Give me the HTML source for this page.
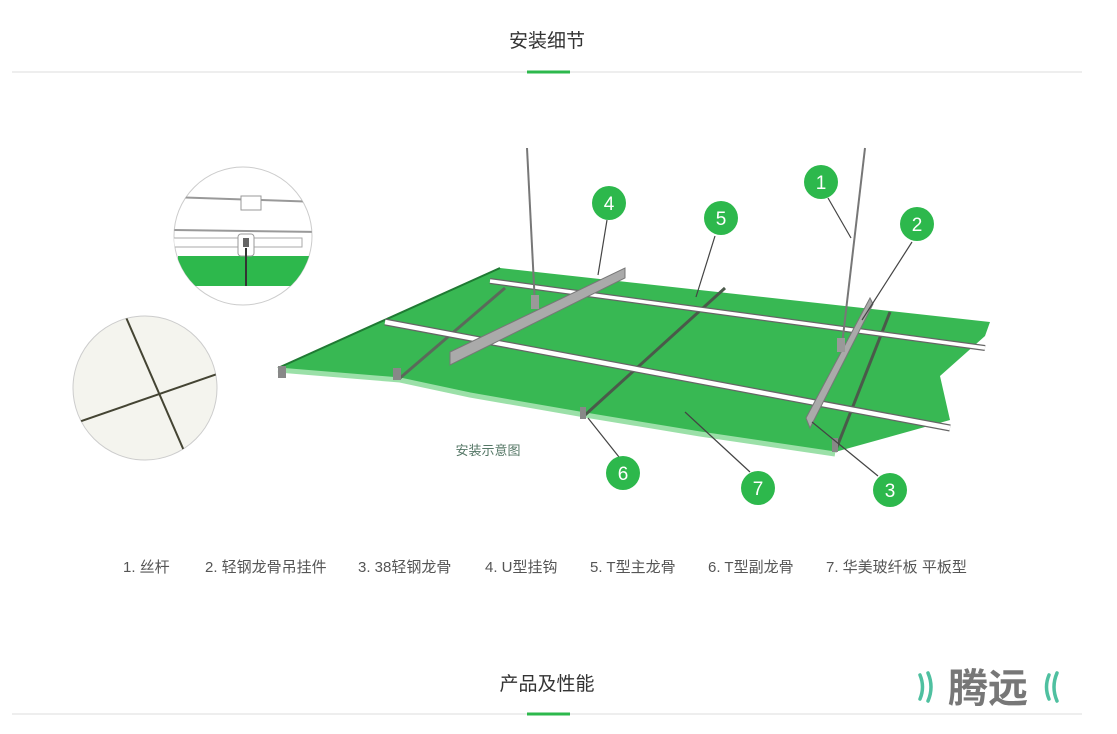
<!DOCTYPE html>
<html><head><meta charset="utf-8"><style>
html,body{margin:0;padding:0;background:#fff;width:1117px;height:734px;overflow:hidden;font-family:"Liberation Sans","Noto Sans CJK SC",sans-serif;}
svg{position:absolute;left:0;top:0}
</style></head><body>
<svg width="1117" height="734" viewBox="0 0 1117 734" font-family="Liberation Sans, Noto Sans CJK SC, sans-serif">
<text x="547" y="47" text-anchor="middle" font-size="19" fill="#333">安装细节</text>
<line x1="12" y1="72" x2="1082" y2="72" stroke="#e8e8e8" stroke-width="1.5"/>
<rect x="527" y="70.5" width="43" height="3" fill="#2db84c"/>
<text x="547" y="690" text-anchor="middle" font-size="19" fill="#333">产品及性能</text>
<line x1="12" y1="714" x2="1082" y2="714" stroke="#e8e8e8" stroke-width="1.5"/>
<rect x="527" y="712.5" width="43" height="3" fill="#2db84c"/>

<defs>
<clipPath id="c1"><circle cx="243" cy="236" r="69"/></clipPath>
<clipPath id="c2"><circle cx="145" cy="388" r="72"/></clipPath>
</defs>
<circle cx="243" cy="236" r="69" fill="#fff" stroke="#ccc"/>
<g clip-path="url(#c1)">
<line x1="170" y1="197" x2="320" y2="202" stroke="#999" stroke-width="2"/>
<rect x="241" y="196" width="20" height="14" fill="#fff" stroke="#999"/>
<line x1="170" y1="230" x2="320" y2="232" stroke="#999" stroke-width="2"/>
<rect x="170" y="238" width="132" height="9" fill="#fff" stroke="#aaa"/>
<rect x="178" y="256" width="140" height="30" fill="#2db84c"/>
<rect x="238" y="234" width="16" height="22" rx="3" fill="#fff" stroke="#999"/>
<rect x="243" y="238" width="6" height="9" fill="#666"/>
<line x1="246" y1="248" x2="246" y2="286" stroke="#333" stroke-width="2"/>
</g>
<circle cx="145" cy="388" r="72" fill="#f4f4ee" stroke="#ccc"/>
<g clip-path="url(#c2)">
<line x1="125" y1="315" x2="188" y2="460" stroke="#443" stroke-width="2"/>
<line x1="70" y1="425" x2="220" y2="373" stroke="#443" stroke-width="2"/>
</g>

<polygon points="278,368 500,268 990,322 985,336 940,376 950,420 835,452 700,432 585,413 470,393 400,378" fill="#38b853"/>
<polyline points="278,370 400,380 470,395 585,415 700,434 835,454" fill="none" stroke="#9be0a8" stroke-width="5"/>
<polyline points="278,368 500,268" stroke="#1f7a33" stroke-width="2" fill="none"/>
<line x1="400" y1="378" x2="505" y2="288" stroke="#5a6a5a" stroke-width="3"/>
<line x1="585" y1="415" x2="725" y2="288" stroke="#4a5a4a" stroke-width="3"/>
<line x1="835" y1="452" x2="890" y2="312" stroke="#4a5a4a" stroke-width="3"/>
<line x1="490" y1="281" x2="985" y2="348" stroke="#666" stroke-width="6"/>
<line x1="490" y1="281" x2="985" y2="348" stroke="#fff" stroke-width="3.5"/>
<line x1="385" y1="322" x2="950" y2="428" stroke="#666" stroke-width="7"/>
<line x1="385" y1="322" x2="950" y2="428" stroke="#fff" stroke-width="4.5"/>
<polygon points="450,352 625,268 625,278 450,365" fill="#aaa" stroke="#777"/>
<polygon points="806,418 870,298 873,304 810,428" fill="#aaa" stroke="#777"/>
<rect x="278" y="366" width="8" height="12" fill="#888"/>
<rect x="393" y="368" width="8" height="12" fill="#888"/>
<rect x="580" y="407" width="6" height="12" fill="#888"/>
<rect x="832" y="438" width="6" height="14" fill="#888"/>
<line x1="527" y1="148" x2="535" y2="305" stroke="#777" stroke-width="2"/>
<line x1="865" y1="148" x2="842" y2="345" stroke="#777" stroke-width="2"/>
<rect x="531" y="295" width="8" height="14" fill="#999"/>
<rect x="837" y="338" width="8" height="14" fill="#999"/>

<text x="488" y="455" text-anchor="middle" font-size="13" fill="#557766">安装示意图</text>

<g stroke="#444" stroke-width="1.2">
<line x1="828" y1="198" x2="851" y2="238"/>
<line x1="912" y1="242" x2="862" y2="320"/>
<line x1="878" y1="476" x2="812" y2="422"/>
<line x1="607" y1="220" x2="598" y2="275"/>
<line x1="715" y1="236" x2="696" y2="297"/>
<line x1="619" y1="457" x2="588" y2="418"/>
<line x1="750" y1="472" x2="685" y2="412"/>
</g>
<g fill="#2db84c">
<circle cx="821" cy="182" r="17"/><circle cx="917" cy="224" r="17"/><circle cx="890" cy="490" r="17"/>
<circle cx="609" cy="203" r="17"/><circle cx="721" cy="218" r="17"/><circle cx="623" cy="473" r="17"/><circle cx="758" cy="488" r="17"/>
</g>
<g fill="#fff" font-size="19" text-anchor="middle">
<text x="821" y="189">1</text><text x="917" y="231">2</text><text x="890" y="497">3</text>
<text x="609" y="210">4</text><text x="721" y="225">5</text><text x="623" y="480">6</text><text x="758" y="495">7</text>
</g>

<g font-size="15" fill="#555">
<text x="123" y="572">1.  丝杆</text>
<text x="205" y="572">2. 轻钢龙骨吊挂件</text>
<text x="358" y="572">3. 38轻钢龙骨</text>
<text x="485" y="572">4. U型挂钩</text>
<text x="590" y="572">5. T型主龙骨</text>
<text x="708" y="572">6. T型副龙骨</text>
<text x="826" y="572">7. 华美玻纤板 平板型</text>
</g>

<g stroke="#4fc0a0" stroke-width="3.5" fill="none" stroke-linecap="round">
<path d="M920,675 q5,12 0,24"/><path d="M928,673 q6,14 0,28"/>
<path d="M1049,675 q-5,12 0,24"/><path d="M1057,673 q-6,14 0,28"/>
</g>
<text x="988" y="702" text-anchor="middle" font-size="40" font-weight="bold" fill="#777">腾远</text>
</svg>
</body></html>
